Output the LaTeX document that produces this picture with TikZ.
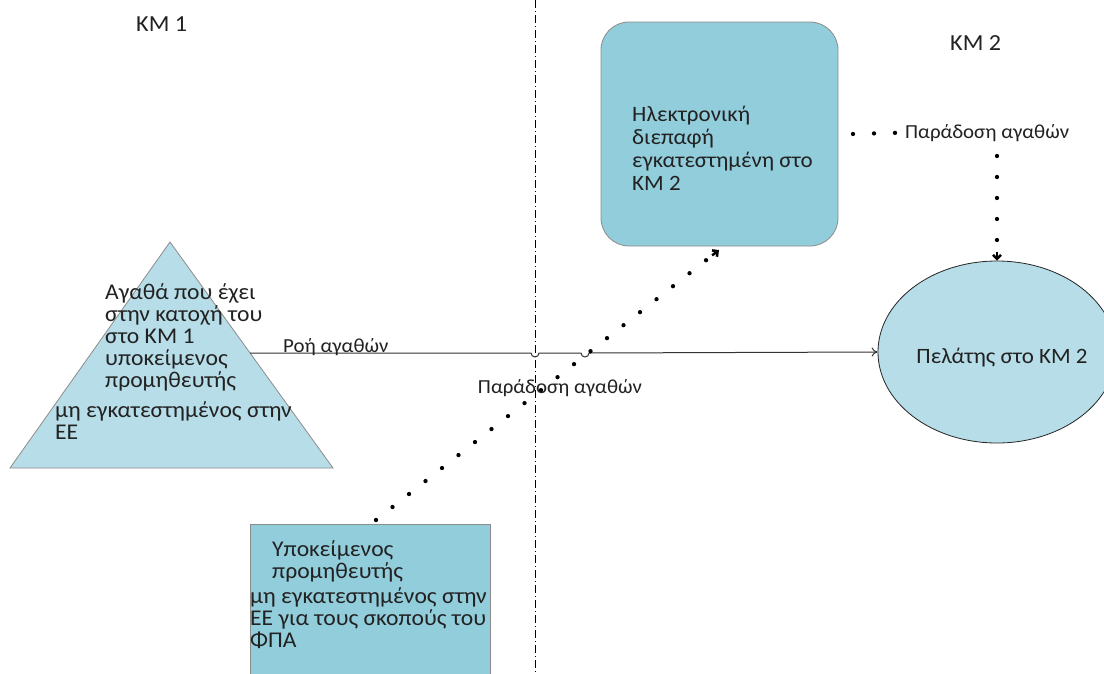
\documentclass[tikz,border=0pt]{standalone}
\usepackage{fontspec}
\setmainfont{Carlito}[FakeStretch=1.05]
\usetikzlibrary{shapes.geometric,arrows.meta,calc}
\definecolor{lightblue}{HTML}{B7DDE8}
\definecolor{midblue}{HTML}{92CDDC}
\definecolor{txt}{HTML}{222222}
\begin{document}
\begin{tikzpicture}[x=1pt,y=-1pt,
  every node/.style={text=txt,font=\fontsize{22.5}{22}\selectfont,inner sep=0pt},
  titletxt/.style={font=\fontsize{23}{22}\selectfont},
  smalltxt/.style={font=\fontsize{19.9}{21}\selectfont},
  dotline/.style={line width=4.3pt,line cap=round,dash pattern=on 0pt off 21pt},
  boxborder/.style={draw=black!45,line width=0.8pt}]
\useasboundingbox (0,0) rectangle (1104,673);
\fill[white] (0,0) rectangle (1104,673);
% divider
\draw[black,line width=1pt,dash pattern=on 8pt off 3pt on 1pt off 3pt] (535,0) -- (535,673);
% titles
\node[titletxt,anchor=base west] (km1) at (136,31) {ΚΜ 1};
\node[titletxt,anchor=base west] (km2) at (950,50) {ΚΜ 2};
% triangle
\coordinate (tA) at (170,242);
\coordinate (tL) at (10,468);
\coordinate (tR) at (333,468);
\filldraw[fill=lightblue,boxborder] (tA) -- (tR) -- (tL) -- cycle;
\node[anchor=base west,align=left] (goodsA) at (105,387) {Αγαθά που έχει\\στην κατοχή του\\στο ΚΜ 1\\υποκείμενος\\προμηθευτής};
\node[anchor=base west,align=left] (goodsB) at (55,439) {μη εγκατεστημένος στην\\ΕΕ};
% interface
\node[boxborder,fill=midblue,rounded corners=28pt,minimum width=237pt,minimum height=224pt] (iface) at (719.5,134) {};
\node[anchor=base west,align=left,font=\fontsize{21.9}{22.7}\selectfont] (ifacetxt) at (632,190) {Ηλεκτρονική\\διεπαφή\\εγκατεστημένη στο\\ΚΜ 2};
% client
\node[draw=black!85,line width=0.8pt,fill=lightblue,ellipse,minimum width=238pt,minimum height=182pt] (client) at (997,352) {};
\node[anchor=base,font=\fontsize{21.9}{22}\selectfont] (clienttxt) at (1002,363) {Πελάτης στο ΚΜ 2};
% supplier box
\node[boxborder,fill=midblue,minimum width=240pt,minimum height=170pt,anchor=north west] (supplier) at (250,524) {};
\node[anchor=base west,align=left,font=\fontsize{22.5}{21.5}\selectfont] (suppA) at (272,578) {Υποκείμενος\\προμηθευτής};
\node[anchor=base west,align=left] (suppB) at (250,647) {μη εγκατεστημένος στην\\ΕΕ για τους σκοπούς του\\ΦΠΑ};
% goods flow
\coordinate (flowS) at (250,353);
\draw[black!80,line width=1pt,-{To[length=6pt,width=9pt]}] (flowS) -- (531,353) arc[start angle=180,end angle=0,radius=4] -- (581,353) arc[start angle=180,end angle=0,radius=4] -- (client.west);
\node[smalltxt,anchor=base west] (flowlbl) at (283,352) {Ροή αγαθών};
% delivery via interface
\coordinate (dS) at (376,520);
\coordinate (dE) at (719,250);
\draw[dotline] (dS) -- (dE);
\draw[black,line width=2.5pt,-{Straight Barb[length=4pt,width=8pt]}] ($(dE)!0.02!(dS)$) -- (dE);
\node[smalltxt,anchor=base] (deliv1) at (560,393) {Παράδοση αγαθών};
% delivery to client
\node[smalltxt,anchor=base west] (deliv2) at (905,138) {Παράδοση αγαθών};
\coordinate (d2S) at (853,134);
\draw[dotline] (d2S) -- (deliv2.west);
\coordinate (d3S) at (997,156);
\draw[dotline] (d3S) -- (997,246);
\draw[black,line width=2.5pt,-{Straight Barb[length=4pt,width=8pt]}] (997,252) -- (client.north);
\end{tikzpicture}
\end{document}
